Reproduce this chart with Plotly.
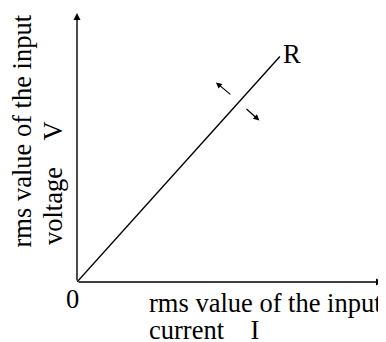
import plotly.graph_objects as go

# line R (data units: axes run 0..10)
current = [0, 6.63]
voltage = [0, 8.38]

# the two little arrows beside the line: (tail x, tail y, head x, head y)
arrow_up = [5.06, 6.93, 4.54, 7.42]
arrow_down = [5.49, 6.48, 5.96, 6.00]

x_max = 10
y_max = 10

font = dict(family="Liberation Serif, Times New Roman, serif", size=26.5, color="black")

fig = go.Figure()
fig.add_trace(
    go.Scatter(x=current, y=voltage, mode="lines", line=dict(color="black", width=1.4),
               hoverinfo="skip", showlegend=False)
)

ann = []
# axes as arrows
ann.append(dict(x=x_max, y=0, ax=0, ay=0, xref="x", yref="y", axref="x", ayref="y",
                showarrow=True, arrowhead=2, arrowsize=1, arrowwidth=1.4, arrowcolor="black", text=""))
ann.append(dict(x=0, y=y_max, ax=0, ay=0, xref="x", yref="y", axref="x", ayref="y",
                showarrow=True, arrowhead=2, arrowsize=1, arrowwidth=1.4, arrowcolor="black", text=""))
for a in (arrow_up, arrow_down):
    ann.append(dict(x=a[2], y=a[3], ax=a[0], ay=a[1], xref="x", yref="y", axref="x", ayref="y",
                    showarrow=True, arrowhead=2, arrowsize=1, arrowwidth=1.2, arrowcolor="black", text=""))

# labels (paper units, outside the plot area)
ann.append(dict(x=current[1] + 0.05, y=8.48, text="R", showarrow=False, xanchor="left", yanchor="middle", font=font))
ann.append(dict(x=-0.015, y=-0.063, xref="paper", yref="paper", text="0", showarrow=False,
                xanchor="center", yanchor="middle", font=font))
ann.append(dict(x=0.229, y=-0.078, xref="paper", yref="paper", text="rms value of the input", showarrow=False,
                xanchor="left", yanchor="middle", font=font))
ann.append(dict(x=0.229, y=-0.179, xref="paper", yref="paper", text="current\u00a0\u00a0\u00a0\u00a0I",
                showarrow=False, xanchor="left", yanchor="middle", font=font))
ann.append(dict(x=-0.18, y=0.563, xref="paper", yref="paper", text="rms value of the input", showarrow=False,
                textangle=-90, xanchor="center", yanchor="middle", font=font))
ann.append(dict(x=-0.08, y=0.366, xref="paper", yref="paper", text="voltage\u00a0\u00a0\u00a0\u00a0V",
                showarrow=False, textangle=-90, xanchor="center", yanchor="middle", font=font))

# the page body adds an 8px offset, so margins are shifted by 8px
fig.update_layout(
    width=386, height=342,
    margin=dict(l=69, r=11, t=5, b=68),
    paper_bgcolor="white", plot_bgcolor="white",
    xaxis=dict(range=[0, x_max], visible=False, fixedrange=True),
    yaxis=dict(range=[0, y_max], visible=False, fixedrange=True),
    annotations=ann,
    showlegend=False,
)

fig.write_html("out.html")
